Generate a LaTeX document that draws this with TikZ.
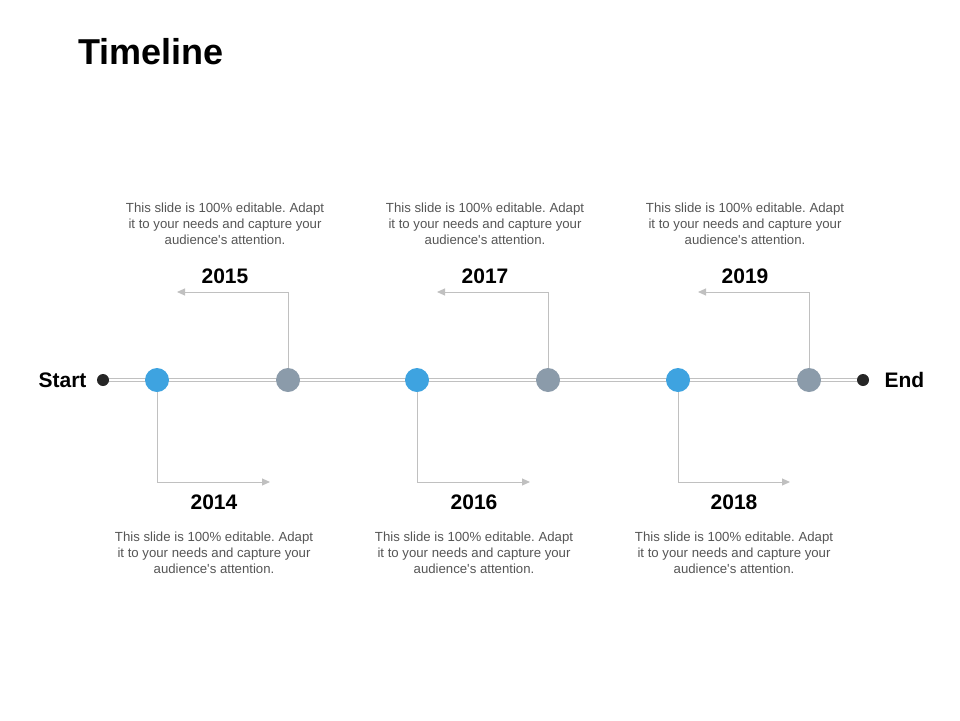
\documentclass[tikz,border=0pt]{standalone}
\usepackage{fontspec}
\setmainfont{Liberation Sans}
\usetikzlibrary{arrows.meta,backgrounds}
\frenchspacing

\definecolor{dotblue}{RGB}{62,163,224}
\definecolor{dotgray}{RGB}{139,155,170}
\definecolor{linegray}{RGB}{192,192,192}
\definecolor{textgray}{RGB}{85,85,85}

\begin{document}
\begin{tikzpicture}[x=1pt,y=-1pt]
  \tikzstyle{bluedot}=[circle,fill=dotblue,minimum size=24pt,inner sep=0pt]
  \tikzstyle{graydot}=[circle,fill=dotgray,minimum size=24pt,inner sep=0pt]
  \tikzstyle{enddot}=[circle,fill=black!85,minimum size=12pt,inner sep=0pt]
  \tikzstyle{year}=[font=\fontsize{21}{24}\selectfont\bfseries]
  \tikzstyle{blurb}=[font=\fontsize{13.2}{16}\selectfont,text=textgray,align=center]
  \tikzstyle{link}=[draw=linegray,line width=1pt,-{Triangle[length=8pt,width=7pt]}]

  \useasboundingbox (0,0) rectangle (960,720);

  \node[anchor=west,font=\fontsize{36}{40}\selectfont\bfseries] (title) at (75,52) {Timeline};

  % ends of the line
  \node[enddot] (start) at (103,380) {};
  \node[enddot] (end) at (863,380) {};
  \node[year,anchor=east] (start-l) at (90,380) {Start};
  \node[year,anchor=west] (end-l) at (881,380) {End};

  % milestones
  \node[bluedot] (m-2014) at (157,380) {};
  \node[graydot] (m-2015) at (288,380) {};
  \node[bluedot] (m-2016) at (417,380) {};
  \node[graydot] (m-2017) at (548,380) {};
  \node[bluedot] (m-2018) at (678,380) {};
  \node[graydot] (m-2019) at (809,380) {};

  \coordinate (a-2014) at (270,482);
  \coordinate (a-2015) at (177,292);
  \coordinate (a-2016) at (530,482);
  \coordinate (a-2017) at (437,292);
  \coordinate (a-2018) at (790,482);
  \coordinate (a-2019) at (698,292);

  \begin{scope}[on background layer]
    \draw[linegray,double=white,double distance=2.5pt,line width=1pt] (start.center) -- (end.center);
    \draw[link] (m-2014.center) |- (a-2014);
    \draw[link] (m-2015.center) |- (a-2015);
    \draw[link] (m-2016.center) |- (a-2016);
    \draw[link] (m-2017.center) |- (a-2017);
    \draw[link] (m-2018.center) |- (a-2018);
    \draw[link] (m-2019.center) |- (a-2019);
  \end{scope}

  % years
  \node[year] (y-2015) at (225,276) {2015};
  \node[year] (y-2017) at (485,276) {2017};
  \node[year] (y-2019) at (745,276) {2019};
  \node[year] (y-2014) at (214,502) {2014};
  \node[year] (y-2016) at (474,502) {2016};
  \node[year] (y-2018) at (734,502) {2018};

  % texts
  \node[blurb] (t-2015) at (225,224) {This slide is 100\% editable. Adapt\\it to your needs and capture your\\audience\textquotesingle s attention.};
  \node[blurb] (t-2017) at (485,224) {This slide is 100\% editable. Adapt\\it to your needs and capture your\\audience\textquotesingle s attention.};
  \node[blurb] (t-2019) at (745,224) {This slide is 100\% editable. Adapt\\it to your needs and capture your\\audience\textquotesingle s attention.};
  \node[blurb] (t-2014) at (214,553) {This slide is 100\% editable. Adapt\\it to your needs and capture your\\audience\textquotesingle s attention.};
  \node[blurb] (t-2016) at (474,553) {This slide is 100\% editable. Adapt\\it to your needs and capture your\\audience\textquotesingle s attention.};
  \node[blurb] (t-2018) at (734,553) {This slide is 100\% editable. Adapt\\it to your needs and capture your\\audience\textquotesingle s attention.};

\end{tikzpicture}
\end{document}
